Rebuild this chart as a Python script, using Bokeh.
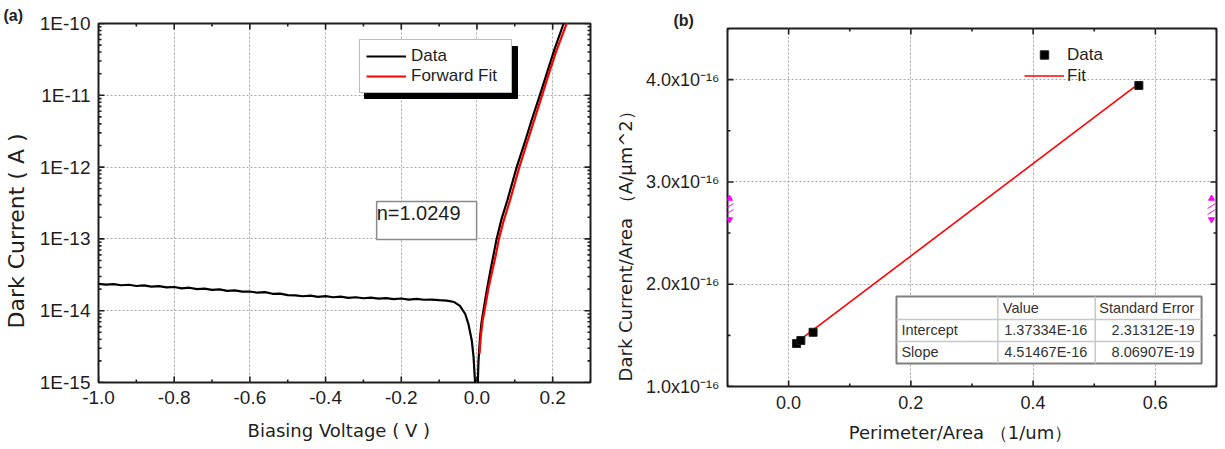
from bokeh.plotting import figure
from bokeh.layouts import row, column
from bokeh.models import Range1d, FixedTicker, CustomJSTickFormatter, Legend, LegendItem, Label
from bokeh.embed import file_html
from bokeh.resources import INLINE
from bokeh.core.properties import value

# ---------------- Panel (a) data ----------------
data_v = [-1.00, -0.98, -0.96, -0.94, -0.92, -0.90, -0.88, -0.86, -0.84, -0.82,
          -0.80, -0.78, -0.76, -0.74, -0.72, -0.70, -0.68, -0.66, -0.64, -0.62,
          -0.60, -0.58, -0.56, -0.54, -0.52, -0.50, -0.48, -0.46, -0.44, -0.42,
          -0.40, -0.38, -0.36, -0.34, -0.32, -0.30, -0.28, -0.26, -0.24, -0.22,
          -0.20, -0.18, -0.16, -0.14, -0.12, -0.10, -0.08, -0.06, -0.045, -0.031,
          -0.0225, -0.0137, -0.009, -0.005, -0.002, 0.001, 0.004, 0.008, 0.012, 0.017,
          0.025, 0.035, 0.052, 0.065, 0.080, 0.105, 0.125, 0.145, 0.166, 0.185,
          0.205, 0.229, 0.245]
data_i = [2.36e-14, 2.31e-14, 2.34e-14, 2.26e-14, 2.30e-14, 2.21e-14, 2.25e-14, 2.16e-14, 2.20e-14, 2.11e-14,
          2.14e-14, 2.05e-14, 2.09e-14, 2.00e-14, 2.03e-14, 1.95e-14, 1.98e-14, 1.89e-14, 1.92e-14, 1.84e-14,
          1.85e-14, 1.78e-14, 1.81e-14, 1.72e-14, 1.73e-14, 1.65e-14, 1.63e-14, 1.59e-14, 1.62e-14, 1.56e-14,
          1.60e-14, 1.54e-14, 1.57e-14, 1.51e-14, 1.54e-14, 1.49e-14, 1.52e-14, 1.47e-14, 1.50e-14, 1.45e-14,
          1.48e-14, 1.43e-14, 1.46e-14, 1.42e-14, 1.43e-14, 1.40e-14, 1.38e-14, 1.32e-14, 1.17e-14, 9.0e-15,
          6.5e-15, 3.85e-15, 2.25e-15, 1.0e-15, 5.0e-16, 6.0e-16, 2.0e-15, 4.2e-15, 6.8e-15, 1.0e-14,
          1.8e-14, 3.5e-14, 1.0e-13, 1.9e-13, 3.4e-13, 1.0e-12, 2.1e-12, 4.6e-12, 1.0e-11, 2.05e-11,
          4.4e-11, 1.0e-10, 1.8e-10]
fit_v = [0.0066, 0.010, 0.015, 0.020, 0.030, 0.040, 0.050, 0.058, 0.070, 0.087,
         0.112, 0.130, 0.150, 0.172, 0.190, 0.210, 0.237, 0.250]
fit_i = [2.5e-15, 4.3e-15, 7.3e-15, 1.0e-14, 2.0e-14, 3.5e-14, 6.0e-14, 1.0e-13, 1.75e-13, 3.4e-13,
         1.0e-12, 2.0e-12, 4.3e-12, 1.0e-11, 2.0e-11, 4.2e-11, 1.0e-10, 1.65e-10]
a_xticks = [-1.0, -0.8, -0.6, -0.4, -0.2, 0.0, 0.2]
a_xlabels = ["-1.0", "-0.8", "-0.6", "-0.4", "-0.2", "0.0", "0.2"]
a_xminor = [-0.9, -0.7, -0.5, -0.3, -0.1, 0.1, 0.3]
a_yticks = [1e-15, 1e-14, 1e-13, 1e-12, 1e-11, 1e-10]
a_ylabels = ["1E-15", "1E-14", "1E-13", "1E-12", "1E-11", "1E-10"]
a_legend = ["Data", "Forward Fit"]
a_note = "n=1.0249"

# ---------------- Panel (b) data ----------------
b_x = [0.013, 0.020, 0.040, 0.573]
b_y = [1.42e-16, 1.45e-16, 1.53e-16, 3.943e-16]
b_fit_x = [0.012, 0.573]
b_fit_y = [1.427e-16, 3.96e-16]
b_xticks = [0.0, 0.2, 0.4, 0.6]
b_xlabels = ["0.0", "0.2", "0.4", "0.6"]
b_xminor = [-0.1, 0.1, 0.3, 0.5, 0.7]
b_yticks = [1e-16, 2e-16, 3e-16, 4e-16]
b_ylabels = ["1.0x10\u207b\u00b9\u2076", "2.0x10\u207b\u00b9\u2076", "3.0x10\u207b\u00b9\u2076", "4.0x10\u207b\u00b9\u2076"]
b_yminor = [1.5e-16, 2.5e-16, 3.5e-16, 4.5e-16]
b_legend = ["Data", "Fit"]
table_header = ["Value", "Standard Error"]
table_names = ["Intercept", "Slope"]
table_values = ["1.37334E-16", "4.51467E-16"]
table_errors = ["2.31312E-19", "8.06907E-19"]

TICK_FONT = "Liberation Sans"
TITLE_FONT = "DejaVu Sans"
INK = "#1e1e1e"
NB = "\u00a0"


def label_formatter(ticks, labels):
    return CustomJSTickFormatter(args=dict(tv=ticks, tl=labels), code="""
        let best = 0;
        for (let i = 0; i < tv.length; i++) {
            if (Math.abs(tv[i] - tick) < Math.abs(tv[best] - tick)) best = i;
        }
        return tl[best];
    """)


def style_axis(ax, size):
    ax.axis_line_color = None
    ax.major_tick_line_color = None
    ax.minor_tick_line_color = None
    ax.major_tick_out = 0
    ax.minor_tick_out = 0
    ax.major_label_text_font = TICK_FONT
    ax.major_label_text_font_size = size
    ax.major_label_text_color = INK
    ax.axis_label_text_font = TITLE_FONT
    ax.axis_label_text_font_style = "normal"
    ax.axis_label_text_color = INK


def style_frame(p):
    p.outline_line_color = INK
    p.outline_line_width = 2
    for g in (p.xgrid[0], p.ygrid[0]):
        g.grid_line_color = "#a8a8a8"
        g.grid_line_dash = "2 2"
        g.grid_line_width = 1


def style_title(p, text, offset):
    p.title.text = text
    p.title.align = "left"
    p.title.offset = offset
    p.title.standoff = 0
    p.title.text_font = TICK_FONT
    p.title.text_font_size = "16px"
    p.title.text_font_style = "bold"
    p.title.text_color = "#222222"


def inner_ticks(p, xr, yr, xmaj, xmin, ymaj, ymin, dx, dy, log_y=False):
    """Origin-style ticks pointing into the frame on all four sides."""
    x0, x1 = xr
    y0, y1 = yr
    xs0, ys0, xs1, ys1 = [], [], [], []
    for ticks, n in ((xmaj, 6), (xmin, 3)):
        for t in ticks:
            xs0 += [t, t]; xs1 += [t, t]
            ys0 += [y0, y1]
            if log_y:
                ys1 += [y0 * 10 ** (n * dy), y1 / 10 ** (n * dy)]
            else:
                ys1 += [y0 + n * dy, y1 - n * dy]
    for ticks, n in ((ymaj, 6), (ymin, 3)):
        for t in ticks:
            ys0 += [t, t]; ys1 += [t, t]
            xs0 += [x0, x1]; xs1 += [x0 + n * dx, x1 - n * dx]
    p.segment(x0=xs0, y0=ys0, x1=xs1, y1=ys1, line_color=INK, line_width=1.6)


# ================= Figure (a) =================
A_FW, A_FH = 492, 359
def ax_(dx):
    return -1.0 + dx * 1.3 / A_FW
def ay_(dy):
    return 10 ** (-10 - dy * 5.0 / A_FH)

a_yminor = [m * t for t in a_yticks[:-1] for m in range(2, 10)]

p1 = figure(frame_width=A_FW, frame_height=A_FH, x_range=Range1d(-1.0, 0.3),
            y_range=Range1d(1e-15, 1e-10), y_axis_type="log",
            output_backend="svg", toolbar_location=None,
            min_border_left=96, min_border_right=22, min_border_top=23, min_border_bottom=58)
style_title(p1, "(a)", -95)

p1.xaxis.ticker = FixedTicker(ticks=a_xticks, minor_ticks=a_xminor)
p1.yaxis.ticker = FixedTicker(ticks=a_yticks, minor_ticks=a_yminor)
p1.xaxis.formatter = label_formatter(a_xticks, a_xlabels)
p1.yaxis.formatter = label_formatter(a_yticks, a_ylabels)
style_axis(p1.xaxis[0], "19px")
style_axis(p1.yaxis[0], "19px")
p1.xaxis.major_label_standoff = 8
p1.yaxis.major_label_standoff = 8
p1.xaxis.axis_label = "Biasing Voltage ( V )" + NB * 2
p1.xaxis.axis_label_text_font_size = "18px"
p1.xaxis.axis_label_standoff = 13
p1.yaxis.axis_label = "Dark Current ( A )" + NB * 8
p1.yaxis.axis_label_text_font_size = "22px"
p1.yaxis.axis_label_standoff = 8
style_frame(p1)

inner_ticks(p1, (-1.0, 0.3), (1e-15, 1e-10), a_xticks, a_xminor, a_yticks, a_yminor,
            1.3 / A_FW, 5.0 / A_FH, log_y=True)

# legend shadow (5 px offset)
p1.quad(left=[ax_(266)], right=[ax_(419)], top=[ay_(23)], bottom=[ay_(75)],
        fill_color="black", line_color="black")

r_data = p1.line(data_v, data_i, line_color="black", line_width=2.2)
r_fit = p1.line(fit_v, fit_i, line_color="#ff0000", line_width=2.2)

leg1 = Legend(items=[LegendItem(label=a_legend[0], renderers=[r_data]),
                     LegendItem(label=a_legend[1], renderers=[r_fit])],
              location=(261, A_FH - 18 - 52), padding=6, spacing=0, margin=0,
              glyph_width=40, glyph_height=20, label_height=20, label_width=94,
              label_standoff=5, label_text_font=TICK_FONT, label_text_font_size="17px",
              label_text_color=INK, border_line_color="#7a7a7a", border_line_width=1.5,
              background_fill_color="white", background_fill_alpha=1.0)
p1.add_layout(leg1)

p1.add_layout(Label(x=-0.133, y=1.8e-13, text=a_note, text_align="center",
                    text_baseline="middle", text_font=TICK_FONT, text_font_size="20px",
                    text_color=INK, border_line_color="#8a8a8a", border_line_width=1.5,
                    background_fill_color="white", padding=(0, 16, 0, 16)))

# ================= Figure (b) =================
B_FW, B_FH = 489, 358
def bxr(px):   # reference-image pixel -> data
    return -0.1 + (px - 731) * 0.8 / 492
def byr(py):
    return 4.5e-16 - (py - 28) * 3.5e-16 / 358

p2 = figure(frame_width=B_FW, frame_height=B_FH, x_range=Range1d(-0.1, 0.7),
            y_range=Range1d(1e-16, 4.5e-16), output_backend="svg", toolbar_location=None,
            min_border_left=112, min_border_right=2, min_border_top=28, min_border_bottom=55)
style_title(p2, "(b)", -54)

p2.xaxis.ticker = FixedTicker(ticks=b_xticks, minor_ticks=b_xminor)
p2.yaxis.ticker = FixedTicker(ticks=b_yticks, minor_ticks=b_yminor)
p2.xaxis.formatter = label_formatter(b_xticks, b_xlabels)
p2.yaxis.formatter = label_formatter(b_yticks, b_ylabels)
style_axis(p2.xaxis[0], "18px")
style_axis(p2.yaxis[0], "18px")
p2.xaxis.major_label_standoff = 9
p2.yaxis.major_label_standoff = 8
p2.xaxis.axis_label = "Perimeter/Area \uff081/um\uff09" + NB * 4
p2.xaxis.axis_label_text_font_size = "18px"
p2.xaxis.axis_label_standoff = 10
p2.yaxis.axis_label = "Dark Current/Area \uff08A/\u03bcm^2\uff09" + NB * 12
p2.yaxis.axis_label_text_font_size = "18px"
p2.yaxis.axis_label_standoff = 7
style_frame(p2)

inner_ticks(p2, (-0.1, 0.7), (1e-16, 4.5e-16), b_xticks, b_xminor, b_yticks, b_yminor,
            0.8 / B_FW, 3.5e-16 / B_FH)

# fit statistics table
p2.quad(left=[bxr(901)], right=[bxr(1208)], top=[byr(296)], bottom=[byr(363)],
        fill_color="white", line_color="#7f7f7f", line_width=2)
p2.segment(x0=[bxr(901), bxr(901), bxr(1003), bxr(1101)],
           y0=[byr(319), byr(341), byr(296), byr(296)],
           x1=[bxr(1208), bxr(1208), bxr(1003), bxr(1101)],
           y1=[byr(319), byr(341), byr(363), byr(363)],
           line_color="#c8c8c8", line_width=1.5)
row_y = [byr(329), byr(351)]
tstyle = dict(text_baseline="middle", text_font=value(TICK_FONT),
              text_font_size="14.5px", text_color="#333333")
p2.text(x=[bxr(1008), bxr(1105)], y=[byr(307)] * 2, text=table_header, text_align="left", **tstyle)
p2.text(x=[bxr(906)] * 2, y=row_y, text=table_names, text_align="left", **tstyle)
p2.text(x=[bxr(1093)] * 2, y=row_y, text=table_values, text_align="right", **tstyle)
p2.text(x=[bxr(1201)] * 2, y=row_y, text=table_errors, text_align="right", **tstyle)

# magenta axis-break markers
for mx in (733, 1218):
    p2.scatter(x=[bxr(mx)], y=[byr(198)], marker="triangle", size=6,
               fill_color="#ff00ff", line_color="#ff00ff")
    p2.scatter(x=[bxr(mx)], y=[byr(219)], marker="inverted_triangle", size=6,
               fill_color="#ff00ff", line_color="#ff00ff")
    p2.segment(x0=[bxr(mx - 4), bxr(mx - 4)], y0=[byr(208), byr(214)],
               x1=[bxr(mx + 4), bxr(mx + 4)], y1=[byr(203), byr(209)],
               line_color="#ff00ff", line_width=1)

r_fit2 = p2.line(b_fit_x, b_fit_y, line_color="#ff0000", line_width=1.6)
r_pts = p2.scatter(b_x, b_y, marker="square", size=8, fill_color="black", line_color="#222222")

leg2 = Legend(items=[LegendItem(label=b_legend[0], renderers=[r_pts]),
                     LegendItem(label=b_legend[1], renderers=[r_fit2])],
              location=(297, B_FH - 8 - 50), padding=4, spacing=0, margin=0,
              glyph_width=40, glyph_height=21, label_height=21, label_standoff=3,
              label_text_font=TICK_FONT, label_text_font_size="17px", label_text_color=INK,
              border_line_color=None, background_fill_alpha=0.0)
p2.add_layout(leg2)

layout = row(column(p1), column(p2))
open("out.html", "w").write(file_html(layout, INLINE))
